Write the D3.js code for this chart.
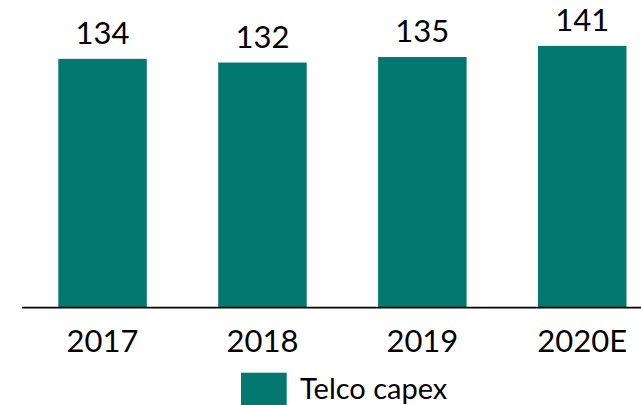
<!DOCTYPE html>
<html>
<head>
<meta charset="utf-8">
<script src="https://cdn.jsdelivr.net/npm/d3@7"></script>
<style>
  html, body { margin: 0; padding: 0; background: #fff; }
  svg { display: block; }
  text { font-family: Lato, "Open Sans", sans-serif; fill: #000; }
</style>
</head>
<body>
<svg id="chart" width="641" height="405"></svg>
<script>
const categories = ["2017", "2018", "2019", "2020E"];
const values = [134, 132, 135, 141];
const seriesName = "Telco capex";
const barColor = "#037870";

const svg = d3.select("#chart");

const x = d3.scaleBand()
  .domain(categories)
  .range([22, 662.8])
  .paddingInner(0.4465)
  .paddingOuter(0.227);

const y = d3.scaleLinear()
  .domain([0, 160])
  .range([307, 307 - 1.852 * 160]);

// bars
svg.selectAll("rect.bar")
  .data(values)
  .join("rect")
  .attr("class", "bar")
  .attr("x", (d, i) => x(categories[i]))
  .attr("y", d => y(d))
  .attr("width", x.bandwidth())
  .attr("height", d => y(0) - y(d))
  .attr("fill", barColor);

// value labels
svg.selectAll("text.val")
  .data(values)
  .join("text")
  .attr("class", "val")
  .attr("x", (d, i) => x(categories[i]) + x.bandwidth() / 2)
  .attr("y", d => y(d) - 14.5)
  .attr("text-anchor", "middle")
  .attr("font-size", 31)
  .text(d => d);

// x axis
const xAxis = d3.axisBottom(x).tickSize(0).tickPadding(0);
const gx = svg.append("g")
  .attr("transform", `translate(0,${y(0) + 0.7})`)
  .call(xAxis);
gx.select(".domain").remove();
gx.append("line")
  .attr("x1", 22).attr("x2", 641)
  .attr("y1", 0).attr("y2", 0)
  .attr("stroke", "#000")
  .attr("stroke-width", 1.8);
gx.selectAll(".tick text")
  .attr("font-family", "Lato, 'Open Sans', sans-serif")
  .attr("font-size", 31)
  .attr("fill", "#000")
  .attr("dy", null)
  .attr("y", 44);

// legend
const lg = svg.append("g");
lg.append("rect")
  .attr("x", 241).attr("y", 372.7)
  .attr("width", 45.7).attr("height", 46)
  .attr("fill", barColor);
lg.append("text")
  .attr("x", 300).attr("y", 398.5)
  .attr("font-size", 29)
  .text(seriesName);
</script>
</body>
</html>
